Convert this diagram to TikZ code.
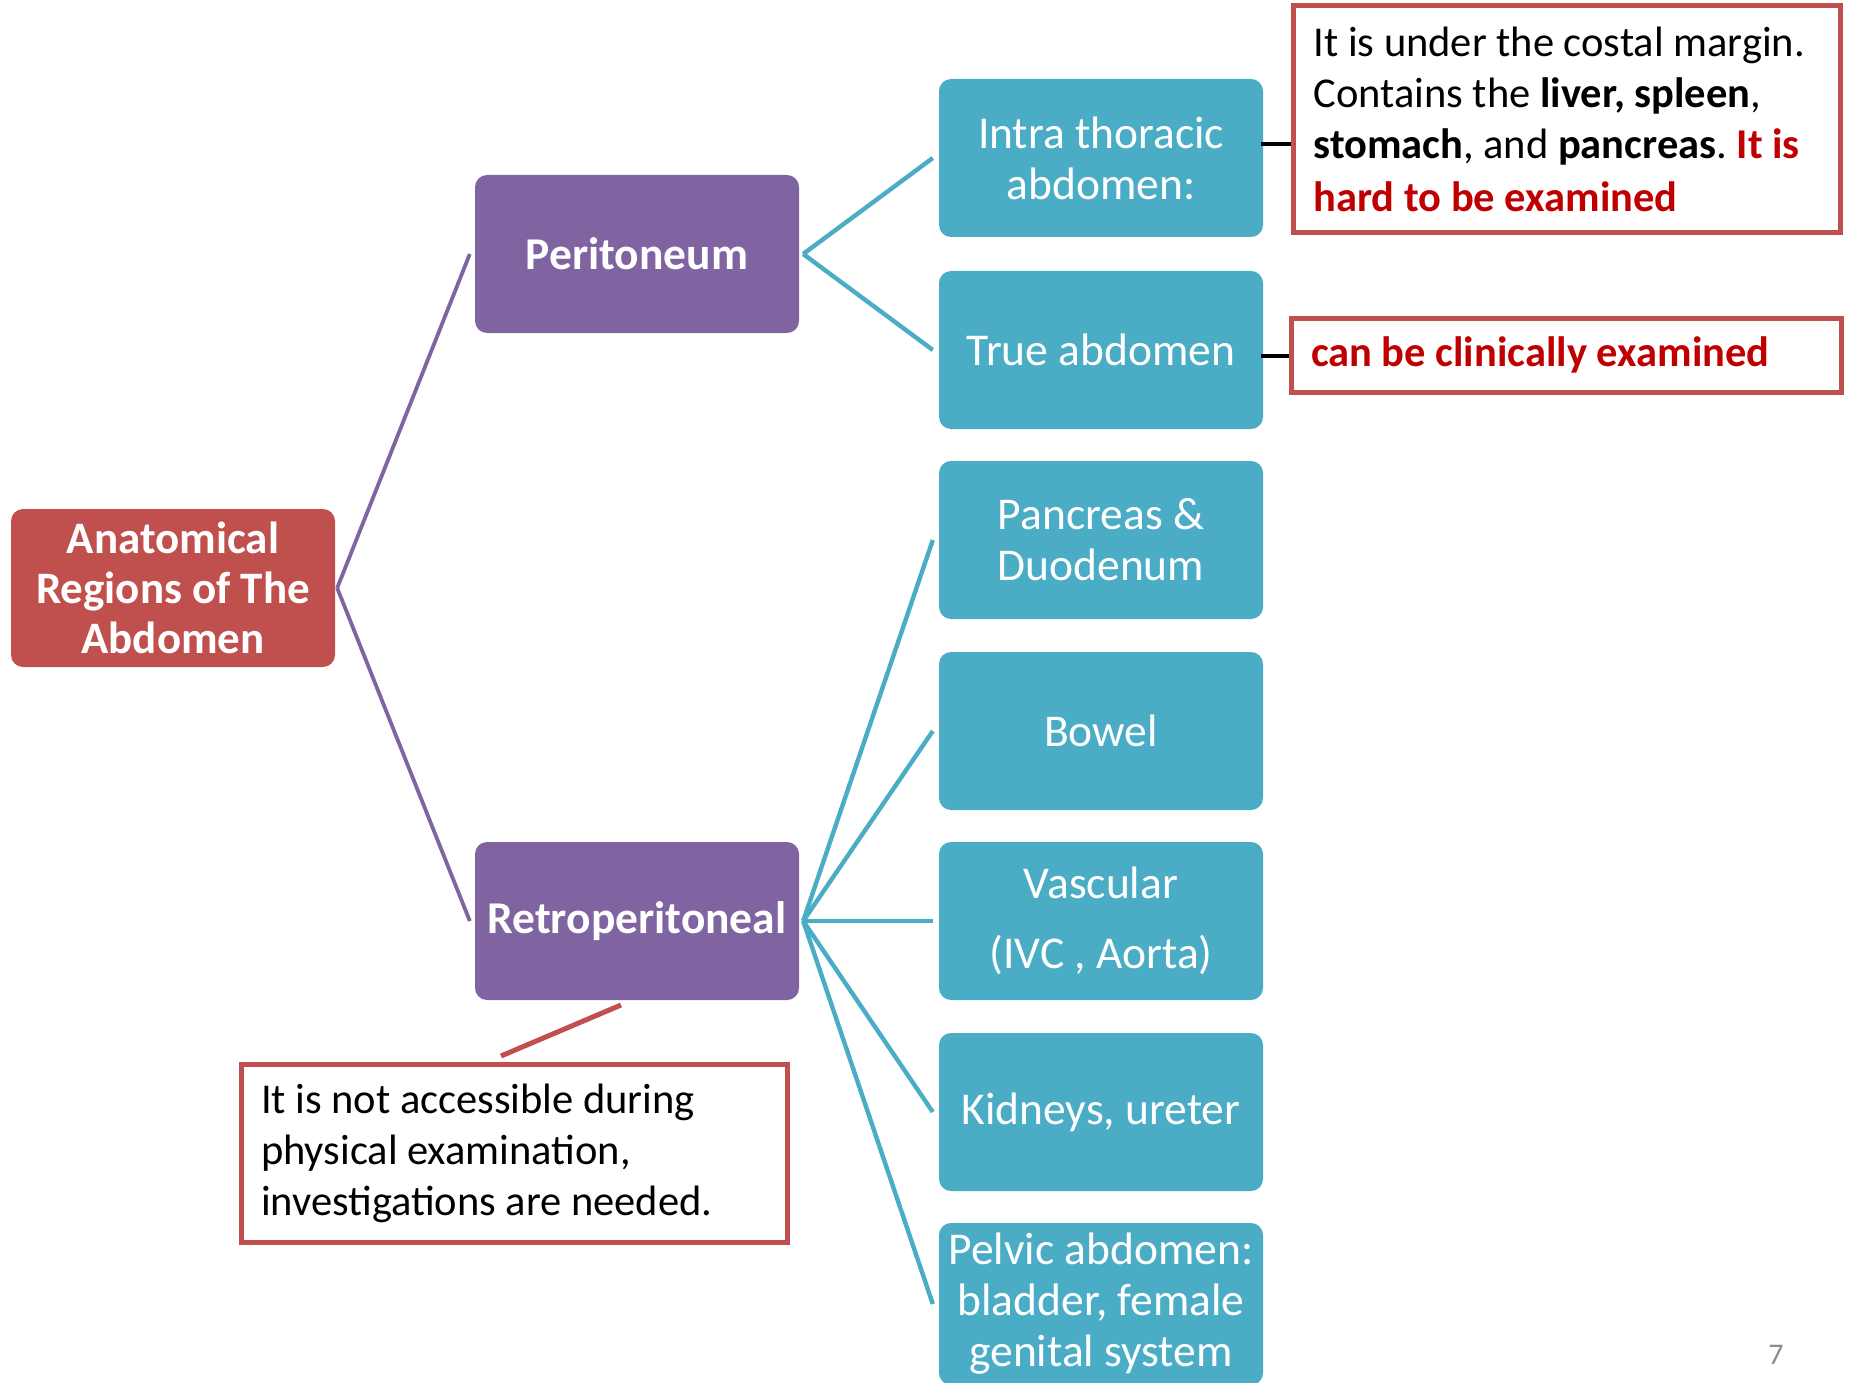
\documentclass[tikz,border=0pt]{standalone}
\usepackage{fontspec}
\setmainfont{Carlito}
\usetikzlibrary{calc}
\frenchspacing
\definecolor{rootred}{HTML}{C0504D}
\definecolor{lilac}{HTML}{8064A2}
\definecolor{teal}{HTML}{4BACC6}
\definecolor{alertred}{HTML}{C00000}
\definecolor{pagegrey}{HTML}{8C8C8C}
\newcommand\notefont{\fontsize{42.5}{51}\selectfont\hyphenpenalty=10000\relax\exhyphenpenalty=10000\relax}
\begin{document}
\begin{tikzpicture}[x=1pt,y=-1pt,
  box/.style={rectangle, rounded corners=12pt, inner sep=0pt, text=white,
    minimum width=324pt, minimum height=158pt, align=center,
    font=\fontsize{45.5}{51}\selectfont},
  rootbox/.style={box, fill=rootred, font=\fontsize{45}{50}\selectfont\bfseries},
  midbox/.style={box, fill=lilac, font=\fontsize{45.5}{51}\selectfont\bfseries},
  leafbox/.style={box, fill=teal},
  note/.style={rectangle, draw=rootred, line width=5pt, fill=white, align=flush left,
    inner xsep=20pt, inner ysep=0pt, font=\notefont},
  trunk/.style={draw=lilac, line width=3.8pt},
  branch/.style={draw=teal, line width=4.4pt},
  tie/.style={draw=black, line width=3.2pt},
  pointer/.style={draw=rootred, line width=5pt}]

\useasboundingbox (0,0) rectangle (1856,1383);

% tree nodes
\node[rootbox] (root) at (173,588) {Anatomical\\Regions of The\\Abdomen};
\node[midbox] (peri) at (637,254) {Peritoneum};
\node[midbox] (retro) at (637,921) {Retroperitoneal};

\node[leafbox] (intra) at (1101,158) {Intra thoracic\\abdomen:};
\node[leafbox] (true) at (1101,350) {True abdomen};
\node[leafbox] (panc) at (1101,540) {Pancreas \&\\Duodenum};
\node[leafbox] (bowel) at (1101,731) {Bowel};
\node[leafbox] (vasc) at (1101,921) {Vascular\\[19pt](IVC , Aorta)};
\node[leafbox] (kid) at (1101,1112) {Kidneys, ureter};
\node[leafbox, minimum height=162pt] (pelv) at (1101,1304) {Pelvic abdomen:\\bladder, female\\genital system};

% side notes
\node[note, text width=507pt, minimum height=227pt] (n1) at (1567,119)
  {It is under the costal margin.\\
   Contains the \textbf{liver, spleen},\\
   \textbf{stomach}, and \textbf{pancreas}. \textcolor{alertred}{\textbf{It is}}\\[2pt]
   \textcolor{alertred}{\textbf{hard to be examined}}};
\node[note, text width=510pt, minimum height=74pt] (n2) at (1566,355)
  {\textcolor{alertred}{\textbf{can be clinically examined}}};
\node[note, text width=506pt, minimum height=178pt] (n3) at (514,1153)
  {It is not accessible during\\physical examination,\\investigations are needed.};

% connectors
\coordinate (rootport) at ($(root.east)+(2,0)$);
\coordinate (periport) at ($(peri.east)+(4,0)$);
\coordinate (retroport) at ($(retro.east)+(4,0)$);
\path[trunk] (rootport) -- ($(peri.west)+(-5,0)$);
\path[trunk] (rootport) -- ($(retro.west)+(-5,0)$);
\foreach \leaf in {intra,true}
  \path[branch] (periport) -- ($(\leaf.west)+(-6,0)$);
\foreach \leaf in {panc,bowel,vasc,kid,pelv}
  \path[branch] (retroport) -- ($(\leaf.west)+(-6,0)$);

\coordinate (tieA) at ($(intra.east)+(-2,-14)$);
\coordinate (tieB) at ($(true.east)+(-2,6)$);
\path[tie] (tieA) -- (n1.west |- tieA);
\path[tie] (tieB) -- (n2.west |- tieB);

\coordinate (tipa) at (621,1005);
\coordinate (tipb) at (501,1056);
\path[pointer] (tipa) -- (tipb);

% slide number
\node[text=pagegrey, font=\fontsize{30}{36}\selectfont] (pageno) at (1776,1355) {7};
\end{tikzpicture}
\end{document}
